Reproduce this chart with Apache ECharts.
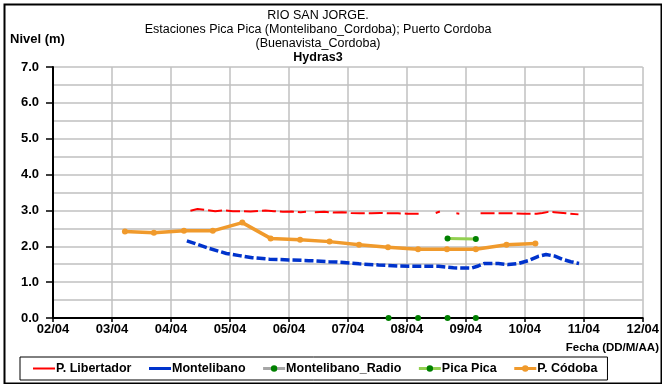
<!DOCTYPE html>
<html>
<head>
<meta charset="utf-8">
<script src="https://cdn.jsdelivr.net/npm/echarts@6/dist/echarts.min.js"></script>
<style>
  html, body { margin: 0; padding: 0; background: #fff; }
  #chart { width: 662px; height: 384px; }
</style>
</head>
<body>
<div id="chart"></div>
<script>
// X positions are in month units (2 = 02/04 ... 12/04); null y marks a gap in the record.
const tickLabels = ['02/04', '03/04', '04/04', '05/04', '06/04', '07/04', '08/04', '09/04', '10/04', '11/04', '12/04'];

const libertadorX = [4.33, 4.45, 4.6, 4.75, 4.9, 5.05, 5.2, 5.35, 5.5, 5.6, 5.75, 5.9, 6.05, 6.2, 6.29, 6.36,
                     6.44, 6.6, 6.75, 6.9, 7.05, 7.2, 7.4, 7.55, 7.7, 7.85, 8.0, 8.2, 8.35,
                     8.49, 8.56, 8.7, 8.84, 8.89, 9.05,
                     9.25, 9.4, 9.6, 9.8, 10.0, 10.2, 10.3, 10.4, 10.5, 10.7, 10.91];
const libertadorY = [2.99, 3.04, 3.01, 2.98, 3.00, 2.98, 2.98, 2.97, 2.99, 3.00, 2.98, 2.96, 2.97, 2.95, 2.96, null,
                     2.95, 2.96, 2.94, 2.95, 2.93, 2.92, 2.92, 2.93, 2.92, 2.92, 2.91, 2.91, null,
                     2.93, 2.97, null, 2.92, 2.91, null,
                     2.92, 2.92, 2.92, 2.92, 2.91, 2.91, 2.93, 2.96, 2.95, 2.92, 2.89];

const montelibanoX = [4.27, 4.40, 4.65, 4.94, 5.16, 5.38, 5.67, 6.0, 6.34, 6.68, 6.93, 7.19, 7.52, 7.86,
                      8.20, 8.54, 8.79, 9.09, 9.21, 9.31, 9.55, 9.72, 9.89, 10.06, 10.23, 10.36, 10.50,
                      10.65, 10.78, 10.92];
const montelibanoY = [2.15, 2.08, 1.94, 1.80, 1.74, 1.68, 1.64, 1.62, 1.60, 1.57, 1.55, 1.51, 1.48, 1.45,
                      1.44, 1.44, 1.40, 1.39, 1.45, 1.52, 1.52, 1.49, 1.52, 1.60, 1.72, 1.77, 1.73,
                      1.63, 1.57, 1.52];

const radioX = [7.69, 7.94, 8.19, 8.44, 8.69, 8.93, 9.17];
const radioY = [0, null, 0, null, 0, null, 0];

const picaX = [8.69, 9.17];
const picaY = [2.22, 2.20];

const cordobaX = [3.22, 3.71, 4.22, 4.71, 5.21, 5.69, 6.19, 6.69, 7.19, 7.68, 8.19, 8.68, 9.17, 9.69, 10.18];
const cordobaY = [2.41, 2.38, 2.43, 2.43, 2.66, 2.22, 2.18, 2.13, 2.04, 1.97, 1.92, 1.92, 1.92, 2.04, 2.08];

function pairs(xs, ys) {
  return xs.map((x, i) => [x, ys[i] === null ? '-' : ys[i]]);
}

const FONT = '"Liberation Sans", Arial, sans-serif';
const chart = echarts.init(document.getElementById('chart'), null, { renderer: 'canvas' });

chart.setOption({
  animation: false,
  backgroundColor: '#ffffff',
  textStyle: { fontFamily: FONT },
  grid: { left: 53, right: 17, top: 67, bottom: 66, containLabel: false },
  xAxis: {
    type: 'value', min: 2, max: 12, interval: 1,
    axisLine: { lineStyle: { color: '#000', width: 2 } },
    axisTick: { show: true, length: 4, lineStyle: { color: '#000', width: 1.5 } },
    axisLabel: {
      color: '#000', fontWeight: 'bold', fontSize: 13, fontFamily: FONT, margin: 5,
      formatter: v => tickLabels[Math.round(v) - 2]
    },
    splitLine: { show: true, lineStyle: { color: '#c0c0c0', width: 1.5 } }
  },
  yAxis: {
    type: 'value', min: 0, max: 7, interval: 1,
    axisLine: { show: true, lineStyle: { color: '#000', width: 2 } },
    axisTick: { show: true, length: 7, lineStyle: { color: '#000', width: 1.5 } },
    axisLabel: {
      color: '#000', fontWeight: 'bold', fontSize: 13, fontFamily: FONT, margin: 14,
      formatter: v => v.toFixed(1)
    },
    splitLine: { show: true, lineStyle: { color: '#c0c0c0', width: 1.5 } },
    minorTick: { show: false, splitNumber: 2 },
    minorSplitLine: { show: true, lineStyle: { color: '#c0c0c0', width: 1.5 } }
  },
  legend: {
    left: 20, top: 357,
    padding: [5, 10, 5, 12],
    borderColor: '#000', borderWidth: 1,
    itemWidth: 22, itemHeight: 8, itemGap: 16,
    textStyle: { color: '#000', fontWeight: 'bold', fontSize: 12.5, fontFamily: FONT, padding: [0, 0, 0, -4] },
    data: [
      { name: 'P. Libertador', itemStyle: { opacity: 0 }, lineStyle: { type: 'solid', width: 2 } },
      { name: 'Montelibano', itemStyle: { opacity: 0 }, lineStyle: { type: 'solid', width: 3 } },
      { name: 'Montelibano_Radio', lineStyle: { width: 3 } },
      { name: 'Pica Pica', lineStyle: { width: 3 } },
      { name: 'P. Códoba', lineStyle: { width: 3 } }
    ]
  },
  graphic: [
    { type: 'rect', left: 2, top: 2, shape: { width: 657, height: 379 }, style: { fill: 'none', stroke: '#000', lineWidth: 2 } },
    { type: 'text', x: 318, y: 9, style: { text: 'RIO SAN JORGE.', font: '12.5px ' + FONT, fill: '#000', align: 'center' } },
    { type: 'text', x: 318, y: 23, style: { text: 'Estaciones Pica Pica (Montelibano_Cordoba); Puerto Cordoba', font: '12.5px ' + FONT, fill: '#000', align: 'center' } },
    { type: 'text', x: 318, y: 37, style: { text: '(Buenavista_Cordoba)', font: '12.5px ' + FONT, fill: '#000', align: 'center' } },
    { type: 'text', x: 318, y: 51, style: { text: 'Hydras3', font: 'bold 12.5px ' + FONT, fill: '#000', align: 'center' } },
    { type: 'text', left: 10, top: 33, style: { text: 'Nivel (m)', font: 'bold 13px ' + FONT, fill: '#000' } },
    { type: 'text', right: 3, top: 342, style: { text: 'Fecha (DD/M/AA)', font: 'bold 11.5px ' + FONT, fill: '#000' } }
  ],
  series: [
    {
      name: 'P. Libertador', type: 'line', symbol: 'none', connectNulls: false,
      data: pairs(libertadorX, libertadorY),
      lineStyle: { color: '#ff0000', width: 2, type: [14, 4] },
      itemStyle: { color: '#ff0000' }, z: 3
    },
    {
      name: 'Montelibano', type: 'line', symbol: 'none', connectNulls: false,
      data: pairs(montelibanoX, montelibanoY),
      lineStyle: { color: '#0033cc', width: 3.5, type: [9, 3] },
      itemStyle: { color: '#0033cc' }, z: 3
    },
    {
      name: 'Montelibano_Radio', type: 'line', symbol: 'circle', symbolSize: 6, showSymbol: true,
      connectNulls: false,
      data: pairs(radioX, radioY),
      lineStyle: { color: '#a6a6a6', width: 3 },
      itemStyle: { color: '#008000' }, z: 4
    },
    {
      name: 'Pica Pica', type: 'line', symbol: 'circle', symbolSize: 6, showSymbol: true,
      data: pairs(picaX, picaY),
      lineStyle: { color: '#92d050', width: 3 },
      itemStyle: { color: '#008000' }, z: 4
    },
    {
      name: 'P. Códoba', type: 'line', symbol: 'circle', symbolSize: 6, showSymbol: true,
      data: pairs(cordobaX, cordobaY),
      lineStyle: { color: '#f09a2c', width: 3.5 },
      itemStyle: { color: '#f09a2c' }, z: 3
    }
  ]
});
</script>
</body>
</html>
